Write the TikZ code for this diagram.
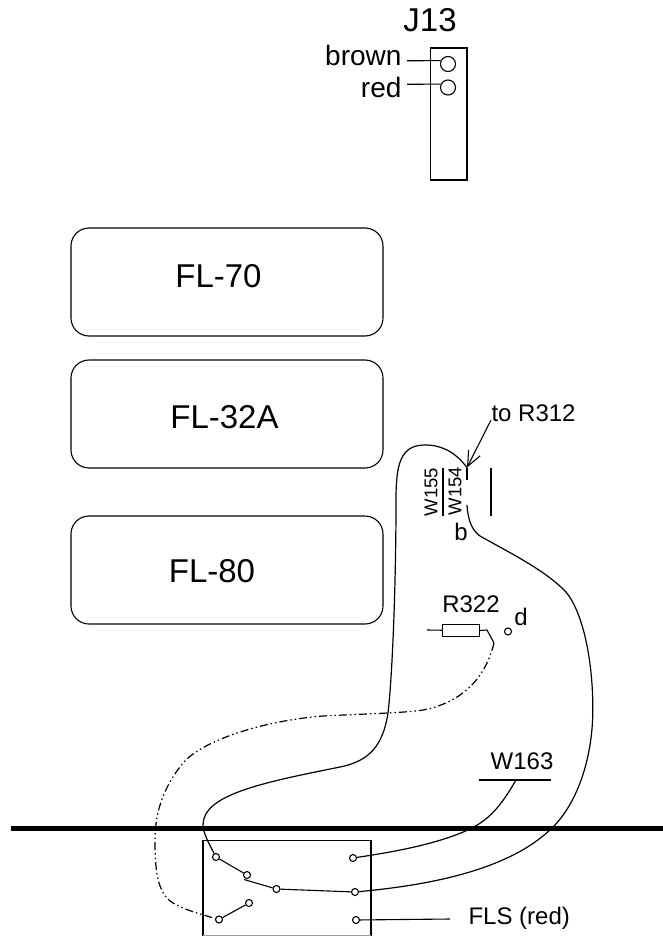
\documentclass[tikz,border=0pt]{standalone}
\usepackage{fontspec}
\setmainfont{Liberation Sans}
\usetikzlibrary{arrows.meta}
\begin{document}
\begin{tikzpicture}[x=1pt,y=-1pt,line width=1.1pt,
filter/.style={%
draw,
rounded corners=18pt,
minimum width=312pt,
minimum height=108pt,
},
flname/.style={%
inner sep=0pt,
anchor=base,
font=\fontsize{33}{33}\selectfont,
},
txt/.style={%
inner sep=0pt,
font=\fontsize{24}{24}\selectfont,
},
big/.style={%
inner sep=0pt,
font=\fontsize{28}{28}\selectfont,
},
wname/.style={%
inner sep=0pt,
rotate=90,
font=\fontsize{18.5}{18.5}\selectfont,
},
pin/.style={%
draw,
circle,
inner sep=0pt,
minimum size=7pt,
},
jack/.style={%
draw,
circle,
inner sep=0pt,
minimum size=15pt,
},
wire/.style={line width=1.2pt},
dotwire/.style={line width=1.2pt,dash pattern=on 8pt off 3pt on 1.5pt off 3pt on 1.5pt off 3pt},
]
\useasboundingbox (0,0) rectangle (663,936);
%% J13
\node[flname](j13)at(430,32){J13};
\node[draw,inner sep=0pt,minimum width=36.5pt,minimum height=132pt](jbar)at(448.7,114){};
\node[jack](jbrown)at(448,64){};
\node[jack](jred)at(448,87.5){};
\node[big,anchor=base east](brown)at(402,66){brown};
\node[big,anchor=base east](red)at(402,98){red};
\coordinate(cbrown)at(407,60.8);
\coordinate(cred)at(407,84.3);
\draw (cbrown)--(jbrown.155);
\draw (cred)--(jred.155);
%% Filters
\node[filter](fl70)at(227,282){};
\node[filter](fl32)at(227,414){};
\node[filter](fl80)at(227,570){};
\node[flname](fl70txt)at(218.5,287){FL-70};
\node[flname](fl32txt)at(224.5,428){FL-32A};
\node[flname](fl80txt)at(212,582){FL-80};
%% W155, W154
\coordinate(tip)at(467,467.5);
\coordinate(wtop)at(467,480);
\coordinate(wlow)at(467,505);
\coordinate(arrowend)at(491,420);
\node[txt,anchor=base west](r312)at(491,421){to R312};
\node[wname](w155)at(431,492){W155};
\node[wname](w154)at(455,491){W154};
\node[txt,anchor=base](b)at(461,540){b};
\draw (443,468)--(443,516);
\draw (491,468)--(491,516);
\draw (tip)--(wtop);
\draw[-{Straight Barb[length=15pt,width=13pt]}] (arrowend)--(tip);
%% R322
\node[draw,inner sep=0pt,minimum width=36.5pt,minimum height=12.5pt](r322)at(461,630.5){};
\node[txt,anchor=base](r322txt)at(471,612){R322};
\node[pin](dpin)at(508,631.5){};
\node[txt,anchor=base](dtxt)at(521,625){d};
\coordinate(rleft)at(427,630);
\coordinate(rbend)at(487,630);
\coordinate(rend)at(494,643);
\draw (rleft)--(r322);
\draw (r322.east)--(rbend)--(rend);
%% Panel
\coordinate(pleft)at(11,828);
\coordinate(pright)at(663,828);
\draw[line width=5pt] (pleft)--(pright);
%% FLS
\draw (203,936)--(203,840.5)--(371,840.5)--(371,936);
\draw[line width=0.6pt,black!40] (203,935.5)--(371,935.5);
\node[pin](s1)at(216,857){};
\node[pin](s2)at(247,875){};
\node[pin](s3)at(276.5,889){};
\node[pin](s4)at(353,858){};
\node[pin](s5)at(355,892){};
\node[pin](s6)at(356,920){};
\node[pin](s7)at(249,903){};
\node[pin](s8)at(219,919.5){};
\coordinate(s2low)at(244,879.5);
\coordinate(flsend)at(450,919);
\node[txt,anchor=base west](fls)at(468,924){FLS (red)};
\draw (s1)--(s2);
\draw (s2low)--(s3);
\draw (s3)--(s5);
\draw (s7)--(s8);
\draw (s6)--(flsend);
%% W163
\coordinate(wleft)at(479,780);
\coordinate(wright)at(551,780);
\coordinate(wfoot)at(516,780);
\node[txt,anchor=base](w163)at(522,769){W163};
\draw (wleft)--(wright);
\draw[wire] (wfoot) .. controls (500,808) and (488,820) .. (470,829) .. controls (440,843) and (400,851) .. (s4);
%% Wires
\draw[wire] (s1) .. controls (208,842) and (203,832) .. (203,825) .. controls (203,795) and (260,783) .. (340,767) .. controls (370,761) and (383,745) .. (388,713) .. controls (392,680) and (396,590) .. (396,500) .. controls (396,465) and (400,445) .. (425,445) .. controls (442,445) and (455,452) .. (tip);
\draw[wire] (wlow) .. controls (468,522) and (473,531) .. (480,536) .. controls (510,553) and (545,570) .. (566,592) .. controls (585,615) and (594,670) .. (592.7,717) .. controls (591,765) and (575,805) .. (553,827) .. controls (510,870) and (430,885) .. (s5);
\draw[dotwire] (rend) .. controls (485,680) and (460,703) .. (423,710) .. controls (405,713) and (360,714) .. (323,716) .. controls (270,720) and (205,738) .. (183,763) .. controls (165,785) and (155,810) .. (155,840) .. controls (155,870) and (157,893) .. (173,903) .. controls (185,910) and (200,914) .. (s8);
\end{tikzpicture}
\end{document}
